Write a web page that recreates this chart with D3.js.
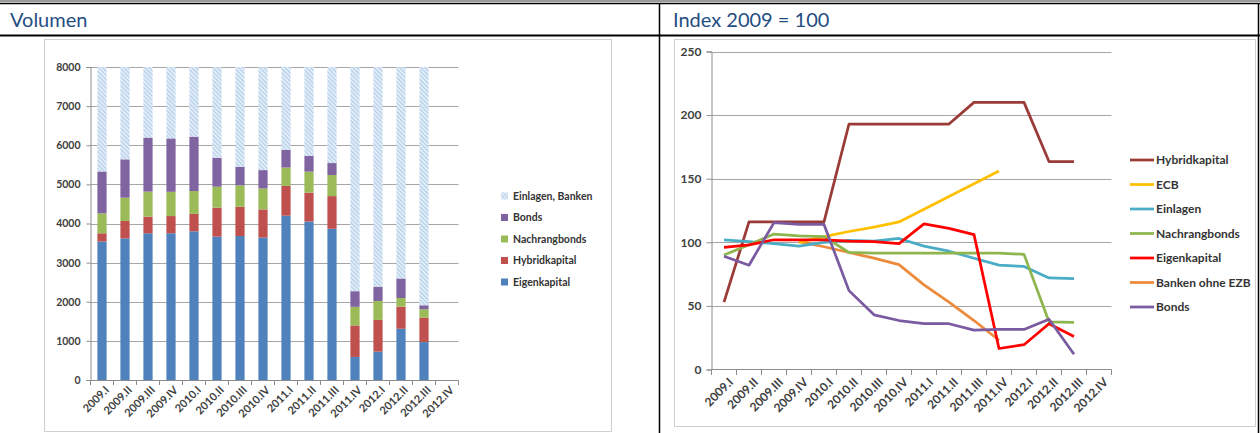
<!DOCTYPE html>
<html>
<head>
<meta charset="utf-8">
<script src="https://cdnjs.cloudflare.com/ajax/libs/d3/7.8.5/d3.min.js"></script>
<style>
  html, body { margin: 0; padding: 0; background: #fff; }
  svg { display: block; font-family: Lato, "Open Sans", sans-serif; }
</style>
</head>
<body>
<svg id="chart" width="1260" height="433"></svg>
<script>
// Quarter labels shared by both panels
const quarters = ["2009.I","2009.II","2009.III","2009.IV","2010.I","2010.II","2010.III","2010.IV",
                  "2011.I","2011.II","2011.III","2011.IV","2012.I","2012.II","2012.III","2012.IV"];

// Volumes (stacked, bottom to top)
const eigenkapital   = [3540, 3620, 3750, 3750, 3800, 3665, 3680, 3640, 4200, 4050, 3865, 590, 725, 1310, 970];
const hybridkapital  = [210, 445, 425, 440, 445, 740, 750, 720, 760, 740, 835, 805, 810, 565, 625];
const nachrangbonds  = [510, 595, 640, 620, 585, 535, 545, 535, 470, 535, 540, 475, 485, 220, 215];
const bonds          = [1070, 980, 1380, 1365, 1390, 740, 475, 470, 455, 400, 305, 400, 365, 500, 100];
const einlagenBanken = [2670, 2360, 1805, 1825, 1780, 2315, 2550, 2630, 2120, 2275, 2455, 5725, 5615, 5400, 6090];
const volumeTicks = [0, 1000, 2000, 3000, 4000, 5000, 6000, 7000, 8000];

// Index series (2009 = 100)
const idxHybridkapital = [53, 116, 116, 116, 116, 193, 193, 193, 193, 193, 210, 210, 210, 163.5, 163.5];
const idxECB           = [null, null, null, 100, 104.5, 108.5, 112, 116, 126, 136, 146, 156];
const idxEinlagen      = [102, 100.5, 99, 97, 100, 101.5, 101, 103, 97, 93, 87.5, 82, 81, 72, 71.5];
const idxNachrang      = [90, 98, 106.5, 105, 104.5, 92, 91.5, 91.5, 91.5, 91.5, 91.5, 91.5, 90.5, 37.5, 37];
const idxEigenkapital  = [96, 98, 102, 102, 102, 101, 100.5, 99, 114.5, 111, 106, 16.5, 19.5, 36, 26];
const idxBankenOhneEZB = [null, null, null, 100.5, 96.5, 92, 87.5, 82.5, 66.5, 53, 38.5, 23];
const idxBonds         = [89, 82, 115.5, 114, 114, 62, 43, 38.5, 36, 36, 31, 31.5, 31.5, 39.5, 12];
const indexTicks = [0, 50, 100, 150, 200, 250];

const svg = d3.select("#chart");
const defs = svg.append("defs");

// Fine diagonal hatch for the "Einlagen, Banken" segment
const hatch = defs.append("pattern")
  .attr("id", "hatch").attr("patternUnits", "userSpaceOnUse")
  .attr("width", 3).attr("height", 3).attr("patternTransform", "rotate(-45)");
hatch.append("rect").attr("width", 3).attr("height", 3).attr("fill", "#eef4fb");
hatch.append("rect").attr("width", 1.5).attr("height", 3).attr("fill", "#b3cfea");

// ---------- table frame ----------
const titleColor = "#1f4e82";
svg.append("line").attr("x1", 0).attr("x2", 1260).attr("y1", 1).attr("y2", 1).attr("stroke", "#9a9a9a").attr("stroke-width", 2);
svg.append("line").attr("x1", 0).attr("x2", 1260).attr("y1", 3.5).attr("y2", 3.5).attr("stroke", "#000").attr("stroke-width", 1.5);
svg.append("line").attr("x1", 0).attr("x2", 1260).attr("y1", 35.5).attr("y2", 35.5).attr("stroke", "#000").attr("stroke-width", 2);
svg.append("line").attr("x1", 659.5).attr("x2", 659.5).attr("y1", 3).attr("y2", 433).attr("stroke", "#000").attr("stroke-width", 1.5);
svg.append("line").attr("x1", 1258.5).attr("x2", 1258.5).attr("y1", 3).attr("y2", 433).attr("stroke", "#000").attr("stroke-width", 1.5);

svg.append("text").attr("x", 10).attr("y", 27).attr("font-size", 20).attr("fill", titleColor).text("Volumen");
svg.append("text").attr("x", 673).attr("y", 27).attr("font-size", 20).attr("fill", titleColor).text("Index 2009 = 100");

// chart boxes
svg.append("rect").attr("x", 44.5).attr("y", 39.5).attr("width", 567).attr("height", 392)
  .attr("fill", "none").attr("stroke", "#d0d0d0");
svg.append("rect").attr("x", 674.5).attr("y", 39.5).attr("width", 581).attr("height", 387)
  .attr("fill", "none").attr("stroke", "#d0d0d0");

const axisColor = "#8c8c8c";
const gridColor = "#a6a6a6";
const labelColor = "#404040";

// ---------- left panel: stacked bars ----------
(function () {
  const x = d3.scaleBand().domain(quarters).range([90.5, 458.5]).paddingInner(0.6).paddingOuter(0.3);
  const y = d3.scaleLinear().domain([0, 8000]).range([380, 67]);
  const g = svg.append("g");

  g.append("g").selectAll("line").data(volumeTicks.slice(1)).join("line")
    .attr("x1", 90.5).attr("x2", 458.5)
    .attr("y1", d => Math.round(y(d)) + 0.5).attr("y2", d => Math.round(y(d)) + 0.5)
    .attr("stroke", gridColor);

  const keys = ["Eigenkapital", "Hybridkapital", "Nachrangbonds", "Bonds", "Einlagen, Banken"];
  const cols = [eigenkapital, hybridkapital, nachrangbonds, bonds, einlagenBanken];
  const fills = ["#4f81bd", "#c0504d", "#9bbb59", "#8064a2", "url(#hatch)"];
  const rows = eigenkapital.map((_, i) => {
    const r = { q: quarters[i] };
    keys.forEach((k, j) => r[k] = cols[j][i]);
    return r;
  });
  const stacked = d3.stack().keys(keys)(rows);

  g.append("g").selectAll("g").data(stacked).join("g")
    .attr("fill", (d, i) => fills[i])
    .selectAll("rect").data(d => d).join("rect")
    .attr("x", d => x(d.data.q))
    .attr("width", x.bandwidth())
    .attr("y", d => y(d[1]))
    .attr("height", d => y(d[0]) - y(d[1]));

  const yAxis = d3.axisLeft(y).tickValues(volumeTicks).tickFormat(d3.format("d")).tickSize(4).tickPadding(6);
  const ya = g.append("g").attr("transform", "translate(90.5,0)").call(yAxis);
  ya.select(".domain").attr("stroke", axisColor);
  ya.selectAll(".tick line").attr("stroke", axisColor);
  ya.selectAll("text").attr("font-size", 10.5).attr("font-weight", "bold").attr("fill", labelColor)
    .attr("font-family", "Lato, sans-serif");

  // x axis with boundary ticks
  const step = x.step();
  g.append("line").attr("x1", 90.5).attr("x2", 458.5).attr("y1", 380.5).attr("y2", 380.5).attr("stroke", axisColor);
  g.append("g").selectAll("line").data(d3.range(quarters.length + 1)).join("line")
    .attr("x1", i => 90.5 + i * step).attr("x2", i => 90.5 + i * step)
    .attr("y1", 380.5).attr("y2", 385).attr("stroke", axisColor);
  g.append("g").selectAll("text").data(quarters).join("text")
    .attr("transform", d => `translate(${x(d) + x.bandwidth() / 2 + 5},${388}) rotate(-45)`)
    .attr("text-anchor", "end").attr("dy", "0.35em")
    .attr("font-size", 11).attr("font-weight", "bold").attr("fill", labelColor)
    .text(d => d);

  // legend (top entry is the top of the stack)
  const legendKeys = keys.slice().reverse();
  const legendFills = fills.slice().reverse();
  const lg = g.append("g").selectAll("g").data(legendKeys).join("g")
    .attr("transform", (d, i) => `translate(501,${196 + i * 21.5})`);
  lg.append("rect").attr("x", 0).attr("y", -3.5).attr("width", 7).attr("height", 7)
    .attr("fill", (d, i) => legendFills[i]);
  lg.append("text").attr("x", 12).attr("dy", "0.35em")
    .attr("font-size", 10.5).attr("font-weight", "bold").attr("fill", "#333")
    .text(d => d);
})();

// ---------- right panel: index lines ----------
(function () {
  const x = d3.scalePoint().domain(quarters).range([711.5, 1111.5]).padding(0.5);
  const y = d3.scaleLinear().domain([0, 250]).range([369.5, 51.5]);
  const g = svg.append("g");

  g.append("g").selectAll("line").data(indexTicks.slice(1)).join("line")
    .attr("x1", 711.5).attr("x2", 1111.5)
    .attr("y1", d => Math.round(y(d)) + 0.5).attr("y2", d => Math.round(y(d)) + 0.5)
    .attr("stroke", gridColor);

  const yAxis = d3.axisLeft(y).tickValues(indexTicks).tickSize(5).tickPadding(5);
  const ya = g.append("g").attr("transform", "translate(711.5,0)").call(yAxis);
  ya.select(".domain").attr("stroke", axisColor);
  ya.selectAll(".tick line").attr("stroke", axisColor);
  ya.selectAll("text").attr("font-size", 12).attr("font-weight", "bold").attr("fill", labelColor)
    .attr("font-family", "Lato, sans-serif");

  const step = x.step();
  g.append("line").attr("x1", 711.5).attr("x2", 1111.5).attr("y1", 369.5).attr("y2", 369.5).attr("stroke", axisColor);
  g.append("g").selectAll("line").data(d3.range(quarters.length + 1)).join("line")
    .attr("x1", i => 711.5 + i * step).attr("x2", i => 711.5 + i * step)
    .attr("y1", 369.5).attr("y2", 375).attr("stroke", axisColor);
  g.append("g").selectAll("text").data(quarters).join("text")
    .attr("transform", d => `translate(${x(d) + 7},${380}) rotate(-45)`)
    .attr("text-anchor", "end").attr("dy", "0.35em")
    .attr("font-size", 12).attr("font-weight", "bold").attr("fill", labelColor)
    .text(d => d);

  const series = [
    { name: "Hybridkapital",    values: idxHybridkapital, color: "#9b3b38" },
    { name: "ECB",              values: idxECB,           color: "#ffc000" },
    { name: "Einlagen",         values: idxEinlagen,      color: "#4bacc6" },
    { name: "Nachrangbonds",    values: idxNachrang,      color: "#8fb54f" },
    { name: "Eigenkapital",     values: idxEigenkapital,  color: "#ff0000" },
    { name: "Banken ohne EZB",  values: idxBankenOhneEZB, color: "#ec8b3c" },
    { name: "Bonds",            values: idxBonds,         color: "#7a5aa0" }
  ];

  const line = d3.line()
    .defined(d => d.v != null)
    .x(d => x(d.q)).y(d => y(d.v));

  // draw order: later series sit on top
  const drawOrder = ["Hybridkapital", "Banken ohne EZB", "ECB", "Einlagen", "Nachrangbonds", "Eigenkapital", "Bonds"];
  g.append("g").selectAll("path").data(drawOrder.map(n => series.find(s => s.name === n))).join("path")
    .attr("fill", "none")
    .attr("stroke", s => s.color)
    .attr("stroke-width", 2.75)
    .attr("stroke-linejoin", "round")
    .attr("d", s => line(s.values.map((v, i) => ({ q: quarters[i], v }))));

  const lg = g.append("g").selectAll("g").data(series).join("g")
    .attr("transform", (d, i) => `translate(1130,${160 + i * 24.5})`);
  lg.append("line").attr("x1", 0).attr("x2", 24).attr("stroke", d => d.color).attr("stroke-width", 2.75);
  lg.append("text").attr("x", 26).attr("dy", "0.35em")
    .attr("font-size", 12).attr("font-weight", "bold").attr("fill", "#333")
    .text(d => d.name);
})();
</script>
</body>
</html>
